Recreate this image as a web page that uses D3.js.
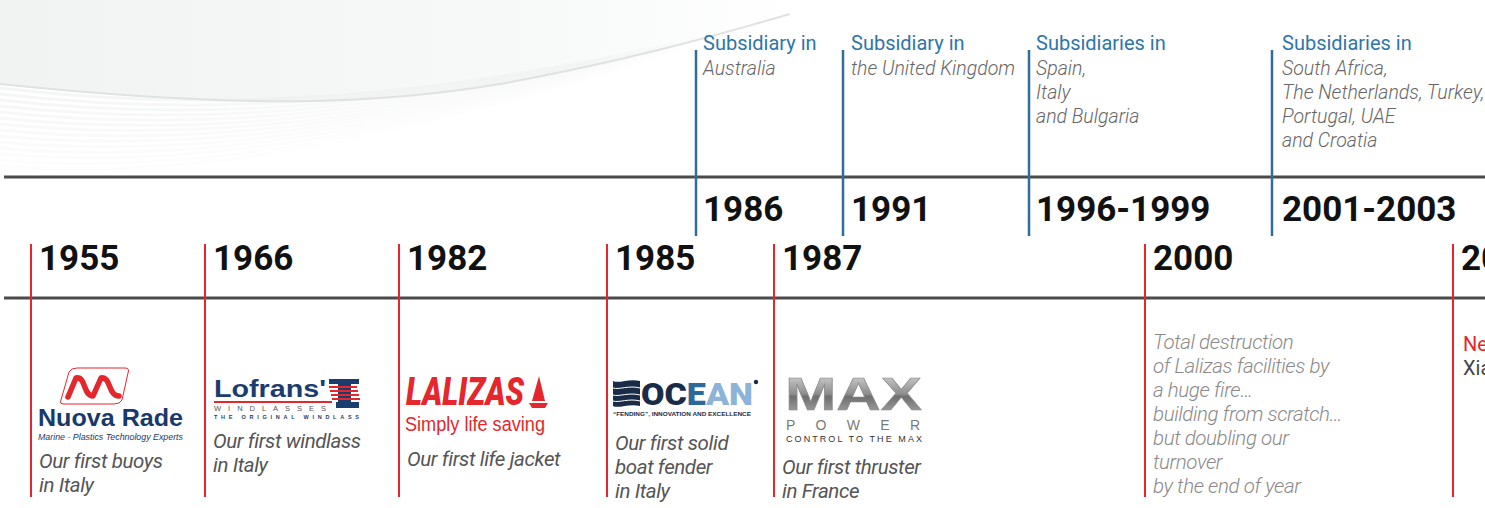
<!DOCTYPE html>
<html>
<head>
<meta charset="utf-8">
<script src="https://cdnjs.cloudflare.com/ajax/libs/d3/7.8.5/d3.min.js"></script>
<style>
  body { margin: 0; background: #fff; }
  svg { display: block; font-family: Roboto, "Noto Sans", sans-serif; }
</style>
</head>
<body>
<svg width="1485" height="508"></svg>
<script>
// ---- data ----
var blueYears = ["1986", "1991", "1996-1999", "2001-2003"];
var blueHeads = ["Subsidiary in", "Subsidiary in", "Subsidiaries in", "Subsidiaries in"];
var blueNotes = [
  ["Australia"],
  ["the United Kingdom"],
  ["Spain,", "Italy", "and Bulgaria"],
  ["South Africa,", "The Netherlands, Turkey,", "Portugal, UAE", "and Croatia"]
];

var redYears = ["1955", "1966", "1982", "1985", "1987", "2000", "2005"];
var redLogos = ["Nuova Rade", "Lofrans", "Lalizas", "Ocean", "Max Power", null, null];
var redHeads = [null, null, null, null, null, null, "New factory in"];
var redNotes = [
  ["Our first buoys", "in Italy"],
  ["Our first windlass", "in Italy"],
  ["Our first life jacket"],
  ["Our first solid", "boat fender", "in Italy"],
  ["Our first thruster", "in France"],
  ["Total destruction", "of Lalizas facilities by", "a huge fire…", "building from scratch…",
   "but doubling our", "turnover", "by the end of year"],
  ["Xiamen, China"]
];

// ---- layout ----
var svg = d3.select("svg"),
    width = +svg.attr("width"),
    height = +svg.attr("height");

// timeline is not to scale: piecewise scale through the layout columns
var x = d3.scaleLinear()
    .domain([1955, 1966, 1982, 1985, 1986, 1987, 1991, 1996, 2000, 2001, 2005])
    .range([31, 205, 399, 607, 696, 774, 843, 1029, 1145, 1272, 1453]);

var noteTop = [468, 448, 466, 450, 474, 349, 375];   // first baseline of each red note
var textPad = [7, 8, 7, 10];                          // gap between blue line and text

var topLineY = 177, bottomLineY = 298, lineH = 24;

// ---- logos, drawn roughly ----
function txt(g, s, px, py, size, fill, opts) {
  opts = opts || {};
  var t = g.append("text").attr("x", px).attr("y", py).attr("fill", fill)
    .style("font-size", size + "px")
    .style("font-family", opts.family || "'Liberation Sans', Arial, sans-serif")
    .style("font-weight", opts.weight || 400)
    .style("font-style", opts.style || "normal")
    .text(s);
  if (opts.len) t.attr("textLength", opts.len).attr("lengthAdjust", opts.adjust || "spacingAndGlyphs");
  return t;
}

var logo = {
  "Nuova Rade": function(g) {
    g.append("path")
      .attr("d", "M38,372 Q40,368 46,368 L94,368 Q99,368 97,373 L91,400 Q89,404 83,404 L33,404 Q28,404 30,400 Z")
      .attr("fill", "#fff").attr("stroke", "#e5262d").attr("stroke-width", 1);
    g.append("path")
      .attr("d", "M37,397 L45,378 C55,376 52,396 62,396 L70,378 C80,376 77,396 88,396")
      .attr("fill", "none").attr("stroke", "#e5262d").attr("stroke-width", 5.5)
      .attr("stroke-linecap", "round").attr("stroke-linejoin", "round");
    txt(g, "Nuova Rade", 7, 426, 23, "#17396c", { weight: 700, len: 145 });
    txt(g, "Marine - Plastics Technology Experts", 7, 440, 9.5, "#17396c", { style: "italic", len: 145 });
  },
  "Lofrans": function(g) {
    txt(g, "Lofrans'", 9, 397, 24, "#1b3d6e", { weight: 700, len: 112 });
    g.append("rect").attr("x", 9).attr("y", 401).attr("width", 118).attr("height", 2).attr("fill", "#e5262d");
    txt(g, "WINDLASSES", 9, 411, 7.5, "#555", { len: 112, adjust: "spacing" });
    txt(g, "THE ORIGINAL WINDLASS", 9, 418.5, 5.5, "#1b3d6e", { weight: 700, len: 145, adjust: "spacing" });
    g.append("rect").attr("x", 124).attr("y", 379).attr("width", 30).attr("height", 5).attr("fill", "#1b3d6e");
    g.append("rect").attr("x", 133).attr("y", 384).attr("width", 13).attr("height", 18).attr("fill", "#1b3d6e");
    d3.range(4).forEach(function(k) {
      g.append("rect").attr("x", 124 + k).attr("y", 386 + k * 4).attr("width", 28).attr("height", 2).attr("fill", "#e5262d");
    });
    g.append("rect").attr("x", 131).attr("y", 402).attr("width", 23).attr("height", 6).attr("fill", "#1b3d6e");
  },
  "Lalizas": function(g) {
    txt(g, "LALIZAS", 7, 405, 38, "#e5262d", { weight: 900, style: "italic", len: 118,
      family: "Roboto, sans-serif" });
    g.append("path").attr("d", "M140,376 L146,401 L133,401 Z").attr("fill", "#e5262d");
    g.append("path").attr("d", "M130,403 L149,403 L146,408 L133,408 Z").attr("fill", "#e5262d");
    txt(g, "Simply life saving", 6, 431, 20, "#e5262d", { len: 140,
      family: "'Liberation Sans Narrow', 'Liberation Sans', sans-serif" });
  },
  "Ocean": function(g) {
    g.append("path")
      .attr("d", "M6,381 C12,384 22,378 33,381 L33,406 C22,403 12,409 6,406 Z")
      .attr("fill", "#1a2b48");
    [388, 395, 401].forEach(function(yy) {
      g.append("path")
        .attr("d", "M6," + yy + " C12," + (yy + 2) + " 22," + (yy - 3) + " 33," + yy)
        .attr("fill", "none").attr("stroke", "#fff").attr("stroke-width", 1);
    });
    var t = g.append("text").attr("x", 34).attr("y", 405)
      .style("font-size", "32px").style("font-weight", 900)
      .style("font-family", "Roboto, sans-serif")
      .attr("textLength", 112).attr("lengthAdjust", "spacingAndGlyphs");
    t.append("tspan").attr("fill", "#1a2b48").text("OC");
    t.append("tspan").attr("fill", "#2d6a9a").text("E");
    t.append("tspan").attr("fill", "#8db3d8").text("AN");
    g.append("circle").attr("cx", 149).attr("cy", 382).attr("r", 2.2).attr("fill", "#1a2b48");
    txt(g, "“FENDING”, INNOVATION AND EXCELLENCE", 6, 416, 5.5, "#1a2b48", { weight: 700, len: 138 });
  },
  "Max Power": function(g) {
    txt(g, "MAX", 11, 410, 46, "url(#maxFill)", { weight: 700, len: 137 })
      .attr("stroke", "#8a8a8a").attr("stroke-width", 0.6);
    txt(g, "POWER", 12, 430, 14, "#7a7a7a", { len: 134, adjust: "spacing" });
    txt(g, "CONTROL TO THE MAX", 12, 442, 9, "#333", { len: 136, adjust: "spacing" });
  }
};

// ---- background swoosh ----
var defs = svg.append("defs");
var g1 = defs.append("linearGradient").attr("id", "bgFade").attr("x1", 0).attr("x2", 1);
g1.append("stop").attr("offset", 0).attr("stop-color", "#f1f2f2");
g1.append("stop").attr("offset", 0.7).attr("stop-color", "#f8f9f9");
g1.append("stop").attr("offset", 1).attr("stop-color", "#ffffff");
var g2 = defs.append("linearGradient").attr("id", "lineFade").attr("x1", 0).attr("x2", 1);
g2.append("stop").attr("offset", 0).attr("stop-color", "#e6e8e8").attr("stop-opacity", 0.9);
g2.append("stop").attr("offset", 0.8).attr("stop-color", "#e6e8e8").attr("stop-opacity", 0.4);
g2.append("stop").attr("offset", 1).attr("stop-color", "#e6e8e8").attr("stop-opacity", 0);
var g3 = defs.append("linearGradient").attr("id", "maxFill").attr("x1", 0).attr("x2", 0).attr("y1", 0).attr("y2", 1);
g3.append("stop").attr("offset", 0).attr("stop-color", "#e4e4e4");
g3.append("stop").attr("offset", 0.5).attr("stop-color", "#8d8d8d");
g3.append("stop").attr("offset", 0.55).attr("stop-color", "#6e6e6e");
g3.append("stop").attr("offset", 1).attr("stop-color", "#b5b5b5");

var bg = svg.append("g");
bg.append("path")
  .attr("d", "M0,0 H790 V14 C700,40 620,62 500,84 C380,104 250,110 0,84 Z")
  .attr("fill", "url(#bgFade)");
// soft streaks under the curve
d3.range(0, 84, 6).forEach(function(o) {
  bg.append("path")
    .attr("d", "M0," + (88 + o) + " C200," + (112 + o * 0.9) + " 420," + (104 + o * 0.4) + " 700," + (36 + o * 0.1))
    .attr("fill", "none")
    .attr("stroke", "url(#lineFade)")
    .attr("stroke-width", 3)
    .attr("opacity", 0.5 - o / 190);
});
bg.append("path")
  .attr("d", "M0,84 C250,110 380,104 500,84 C620,62 700,40 790,14")
  .attr("fill", "none").attr("stroke", "#e0e2e2").attr("stroke-width", 2);

// ---- horizontal rails ----
svg.append("line").attr("x1", 4).attr("x2", width).attr("y1", topLineY).attr("y2", topLineY)
  .attr("stroke", "#4b4b4b").attr("stroke-width", 3);
svg.append("line").attr("x1", 4).attr("x2", width).attr("y1", bottomLineY).attr("y2", bottomLineY)
  .attr("stroke", "#4b4b4b").attr("stroke-width", 3);

// ---- blue (subsidiary) events ----
var blue = svg.append("g").selectAll("g")
  .data(blueYears)
  .enter().append("g")
    .attr("transform", function(d) { return "translate(" + x(parseInt(d)) + ",0)"; });

blue.append("line")
  .attr("y1", 50).attr("y2", 236)
  .attr("stroke", "#2e6e9e").attr("stroke-width", 2.5);

blue.append("text")
  .attr("x", function(d, i) { return textPad[i]; })
  .attr("y", 50)
  .attr("fill", "#2e76a9")
  .style("font-size", "20px")
  .text(function(d, i) { return blueHeads[i]; });

blue.each(function(d, i) {
  d3.select(this).selectAll("text.note")
    .data(blueNotes[i])
    .enter().append("text")
      .attr("class", "note")
      .attr("x", textPad[i])
      .attr("y", function(t, j) { return 75 + j * lineH; })
      .attr("fill", "#666")
      .style("font-size", "19.5px").style("font-style", "italic").style("font-weight", 300)
      .text(function(t) { return t; });
});

blue.append("text")
  .attr("x", function(d, i) { return textPad[i]; })
  .attr("y", 221)
  .attr("fill", "#111")
  .style("font-size", "35px").style("font-weight", 700)
  .text(function(d) { return d; });

// ---- red (milestone) events ----
var red = svg.append("g").selectAll("g")
  .data(redYears)
  .enter().append("g")
    .attr("transform", function(d) { return "translate(" + x(parseInt(d)) + ",0)"; });

red.append("line")
  .attr("y1", 244).attr("y2", 497)
  .attr("stroke", "#e5262d").attr("stroke-width", 2);

red.append("text")
  .attr("x", 8)
  .attr("y", 270)
  .attr("fill", "#111")
  .style("font-size", "35px").style("font-weight", 700)
  .text(function(d) { return d; });

red.each(function(d, i) {
  var g = d3.select(this);
  var plain = redHeads[i] != null;
  if (plain) {
    g.append("text").attr("x", 10).attr("y", noteTop[i] - lineH)
      .attr("fill", "#e5262d").style("font-size", "20px")
      .text(redHeads[i]);
  }
  g.selectAll("text.note")
    .data(redNotes[i])
    .enter().append("text")
      .attr("class", "note")
      .attr("x", plain ? 10 : 8)
      .attr("y", function(t, j) { return noteTop[i] + j * lineH; })
      .attr("fill", plain ? "#444" : (d === "2000" ? "#8a8a8a" : "#555"))
      .style("font-size", plain ? "20px" : "20.5px")
      .style("font-style", plain ? "normal" : "italic")
      .style("font-weight", plain ? 400 : (d === "2000" ? 300 : 400))
      .style("letter-spacing", plain ? "0" : "-0.4px")
      .text(function(t) { return t; });
  if (redLogos[i]) logo[redLogos[i]](g);
});
</script>
</body>
</html>
